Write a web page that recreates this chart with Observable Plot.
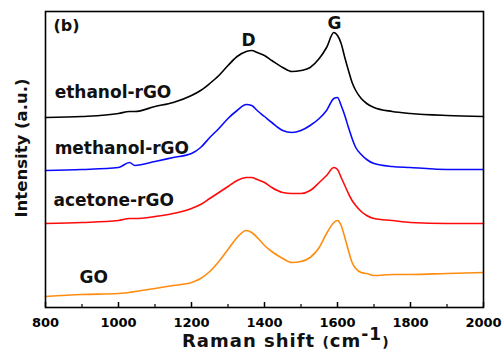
<!DOCTYPE html>
<html><head><meta charset="utf-8">
<script src="https://cdn.jsdelivr.net/npm/d3@7"></script>
<script src="https://cdn.jsdelivr.net/npm/@observablehq/plot@0.6"></script>
<style>
html,body{margin:0;padding:0;background:#fff;}
#chart{position:relative;width:504px;height:353px;}
svg{font-family:"DejaVu Sans",sans-serif;}
</style></head>
<body><div id="chart"></div>
<script>
// Raman shift positions (cm^-1)
const shift = [800, 900, 1000, 1030, 1045, 1100, 1150, 1200, 1225, 1250, 1275, 1300, 1325, 1350, 1365, 1380, 1400, 1420, 1450, 1475, 1500, 1525, 1550, 1570, 1590, 1600, 1610, 1620, 1630, 1640, 1650, 1665, 1680, 1700, 1750, 1800, 1900, 2000];
// Offset intensities (a.u.) for each spectrum
const ethanol  = [190,191,194,196,196,201,205,212,217,224,232,242,251,256,257,255,252,247,240,236,237,240,249,260,275,272,264,250,237,225,217,209,204,200,196,194,192,191];
const methanol = [137,138,140,145,142,146,150,154,160,170,179,189,197,203,202,197,191,185,177,175,177,182,189,197,209,210,202,192,180,169,160,153,148,144,141,140,138,138];
const acetone  = [84,85,87,89,89,91,94,99,103,109,115,121,127,130,130,128,125,120,115,114,114,117,125,132,140,138,130,122,114,107,102,96,92,89,87,85,84,84];
const go       = [11,13,14,15,16,19,22,25,29,36,46,58,70,77,75,70,62,56,49,45,46,50,60,74,85,87,82,70,57,45,39,35,34,32,33,33,34,35];
const seriesNames = ["ethanol-rGO", "methanol-rGO", "acetone-rGO", "GO"];
const seriesColors = ["#000000", "#0a0aff", "#ff0a0a", "#ff8c10"];
const seriesValues = [ethanol, methanol, acetone, go];
// label anchor positions (data units)
const labelX = [825, 825, 822, 893];
const labelY = [215, 159, 107, 30];
const peakNames = ["D", "G"];
const peakX = [1356, 1592];
const peakY = [267, 284];
const xTicks = [800, 1000, 1200, 1400, 1600, 1800, 2000];
const minorTicks = [900, 1100, 1300, 1500, 1700, 1900];

const rows = [];
seriesValues.forEach((vals, s) => vals.forEach((v, i) => rows.push({x: shift[i], y: v, s: seriesNames[s]})));
const labels = seriesNames.map((n, i) => ({name: n, x: labelX[i], y: labelY[i]}));
const peaks = peakNames.map((n, i) => ({name: n, x: peakX[i], y: peakY[i]}));

const plot = Plot.plot({
  width: 504, height: 353,
  marginLeft: 45, marginRight: 21, marginTop: 11, marginBottom: 46,
  style: {fontFamily: "DejaVu Sans"},
  x: {domain: [800, 2000], ticks: xTicks},
  y: {domain: [0, 296], axis: null},
  color: {domain: seriesNames, range: seriesColors},
  marks: [
    Plot.line(rows, {x: "x", y: "y", z: "s", stroke: "s", strokeWidth: 1.6, curve: "monotone-x"}),
    Plot.frame({stroke: "#000", strokeWidth: 1.6}),
    Plot.ruleX(xTicks, {x: d => d, y1: 0, y2: 5, stroke: "#000", strokeWidth: 1.5}),
    Plot.ruleX(minorTicks, {x: d => d, y1: 0, y2: 3, stroke: "#000", strokeWidth: 1.2}),
    Plot.axisX({ticks: xTicks, tickSize: 0, tickPadding: 10, tickFormat: d3.format("d"), fontSize: 13, fontWeight: "bold", label: null, fill: "#000"}),
    Plot.text(labels, {x: "x", y: "y", text: "name", textAnchor: "start", fontSize: 17, fontWeight: "bold", fill: "#111"}),
    Plot.text(peaks, {x: "x", y: "y", text: "name", fontSize: 17, fontWeight: "bold", fill: "#111"}),
    Plot.text(["(b)"], {frameAnchor: "top-left", dx: 8, dy: 8, fontSize: 16, fontWeight: "bold", fill: "#111"})
  ]
});
const svg = d3.select(plot);
svg.append("text")
  .attr("transform", "translate(27,148) rotate(-90)")
  .attr("text-anchor", "middle")
  .attr("font-family", "DejaVu Sans")
  .attr("font-size", 16.5).attr("font-weight", "bold").attr("fill", "#111")
  .text("Intensity (a.u.)");
const xl = svg.append("text")
  .attr("x", 182).attr("y", 347)
  .attr("text-anchor", "start")
  .attr("font-family", "DejaVu Sans")
  .attr("letter-spacing", 1)
  .attr("font-size", 18).attr("font-weight", "bold").attr("fill", "#111");
xl.append("tspan").text("Raman shift ");
xl.append("tspan").attr("font-size", 14).text("(");
xl.append("tspan").text("cm");
xl.append("tspan").attr("dy", -7).attr("font-size", 17).text("-1");
xl.append("tspan").attr("dy", 7).attr("font-size", 14).text(")");
document.getElementById("chart").appendChild(plot);
</script>
</body></html>
